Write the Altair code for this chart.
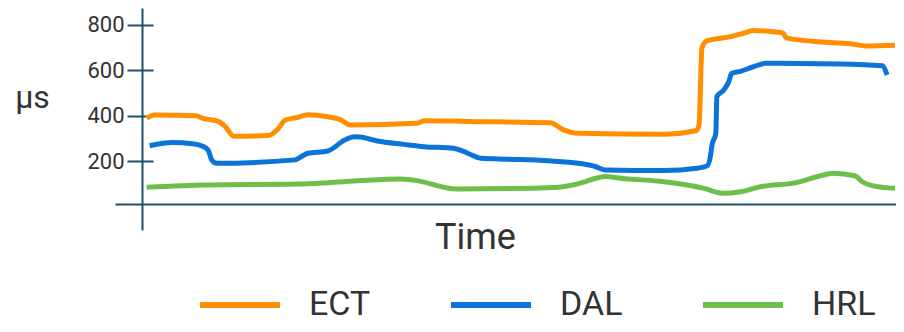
import altair as alt
import pandas as pd

series_names = ["ECT", "DAL", "HRL"]
series_colors = ["#FF8F00", "#0A74DA", "#6CBF4C"]

# time positions (arbitrary units) and values in µs
ect_t = [5, 13, 55, 61, 78, 84, 93, 128, 138, 145, 158, 168, 188, 200, 211, 278, 286, 328, 413, 425, 441, 528, 560, 563, 566, 571, 595, 608, 618, 645, 648, 651, 695, 718, 731, 761]
ect_v = [390, 404, 401, 390, 375, 355, 311, 314, 345, 382, 394, 405, 396, 385, 360, 368, 379, 376, 370, 341, 324, 320, 335, 360, 700, 730, 748, 763, 775, 766, 764, 743, 722, 716, 707, 710]

dal_t = [8, 31, 51, 61, 67, 71, 76, 155, 161, 168, 188, 205, 215, 221, 238, 265, 285, 315, 325, 331, 343, 371, 411, 441, 458, 468, 528, 561, 571, 575, 576, 580, 581, 588, 593, 596, 605, 618, 630, 705, 748, 753]
dal_v = [269, 283, 278, 268, 250, 205, 192, 207, 221, 236, 246, 294, 309, 307, 290, 275, 265, 258, 244, 233, 214, 210, 203, 192, 178, 163, 160, 170, 180, 236, 270, 324, 485, 514, 550, 587, 596, 616, 631, 628, 620, 580]

hrl_t = [5, 65, 158, 188, 221, 261, 275, 318, 418, 445, 458, 468, 488, 521, 545, 568, 588, 605, 625, 661, 685, 698, 721, 728, 738, 761]
hrl_v = [87, 97, 101, 107, 116, 123, 118, 79, 86, 107, 125, 134, 124, 114, 101, 82, 60, 67, 89, 107, 136, 148, 136, 111, 94, 82]

y_ticks = [200, 400, 600, 800]
x_title = "Time"
y_title = "µs"

rows = []
for name, ts, vs in [("ECT", ect_t, ect_v), ("DAL", dal_t, dal_v), ("HRL", hrl_t, hrl_v)]:
    for i, (t, v) in enumerate(zip(ts, vs)):
        rows.append({"series": name, "t": t, "v": v, "i": i})
df = pd.DataFrame(rows)

AXIS_COLOR = "#1C4E6E"
TEXT_COLOR = "#333333"
W, H = 781, 222

x_enc = alt.X(
    "t:Q",
    scale=alt.Scale(domain=[-27, 762], nice=False, zero=False),
    axis=alt.Axis(
        title=x_title, orient="bottom", offset=-26, labels=False, ticks=False, grid=False,
        domainColor=AXIS_COLOR, domainWidth=2,
        titleFont="Roboto", titleFontSize=36, titleFontWeight="normal", titleColor=TEXT_COLOR,
        titleX=360, titleY=44, titleAlign="center", titleBaseline="alphabetic",
    ),
)
y_scale = alt.Scale(domain=[-101, 874], nice=False, zero=False)

lines = alt.Chart(df).mark_line(strokeWidth=5, interpolate="monotone").encode(
    x=x_enc,
    y=alt.Y(
        "v:Q", scale=y_scale,
        axis=alt.Axis(
            values=y_ticks, orient="left", offset=-27, grid=False,
            domainColor=AXIS_COLOR, domainWidth=2,
            tickColor=AXIS_COLOR, tickWidth=2, tickSize=15,
            labelFont="Roboto", labelFontSize=22, labelColor=TEXT_COLOR, labelPadding=3,
            title=y_title, titleFont="Roboto", titleFontSize=32, titleFontWeight="normal",
            titleColor=TEXT_COLOR, titleAngle=0, titleX=-110, titleY=99,
            titleAlign="center", titleBaseline="alphabetic",
        ),
    ),
    color=alt.Color(
        "series:N",
        scale=alt.Scale(domain=series_names, range=series_colors),
        legend=alt.Legend(
            title=None, orient="none", legendX=82, legendY=254, direction="horizontal",
            symbolType="stroke", symbolSize=6400, symbolStrokeWidth=6,
            labelFont="Roboto", labelFontSize=34, labelColor=TEXT_COLOR,
            labelOffset=26, columnPadding=68, padding=0, labelLimit=300,
        ),
    ),
    order="i:Q",
)

right_ticks = alt.Chart(df).mark_line(strokeOpacity=0).encode(
    x=x_enc,
    y=alt.Y(
        "v:Q", scale=y_scale,
        axis=alt.Axis(
            values=y_ticks, orient="right", offset=27 - W, grid=False, labels=False,
            domain=False, tickColor=AXIS_COLOR, tickWidth=2, tickSize=11, title="",
        ),
    ),
    detail="series:N",
)

chart = alt.layer(lines, right_ticks).resolve_axis(y="independent").properties(
    width=W, height=H,
    padding={"left": 107, "top": 0, "right": 0, "bottom": 94},
    autosize=alt.AutoSizeParams(type="none"),
).configure_view(strokeOpacity=0)

chart.save("out.html", embed_options={"renderer": "svg", "actions": False})
